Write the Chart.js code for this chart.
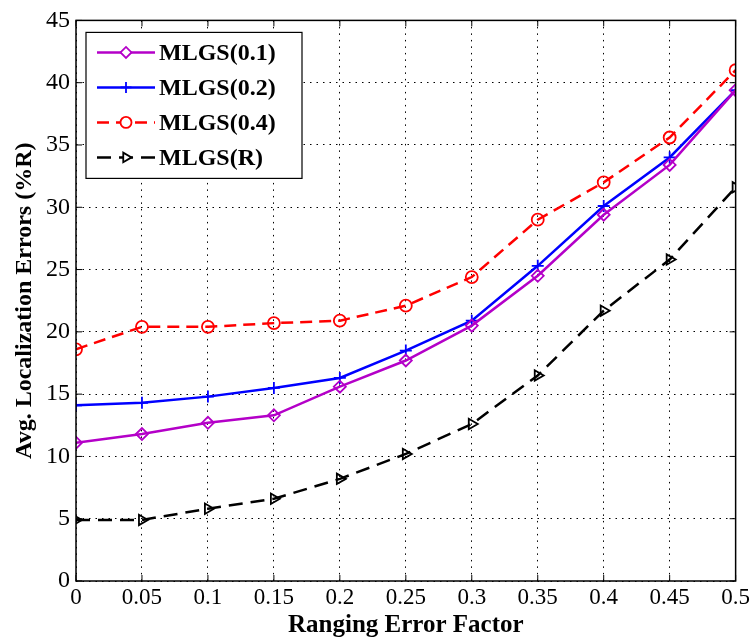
<!DOCTYPE html>
<html>
<head>
<meta charset="utf-8">
<script src="https://cdn.jsdelivr.net/npm/chart.js@4.4.0/dist/chart.umd.min.js"></script>
<style>
 body { margin:0; background:#fff; }
 #wrap { width:753px; height:641px; }
</style>
</head>
<body>
<div id="wrap"><canvas id="chart" width="753" height="641"></canvas></div>
<script>
var xVals = [0, 0.05, 0.1, 0.15, 0.2, 0.25, 0.3, 0.35, 0.4, 0.45, 0.5];
var mlgs01 = [11.1, 11.8, 12.7, 13.3, 15.6, 17.7, 20.5, 24.5, 29.4, 33.4, 39.4];
var mlgs02 = [14.1, 14.3, 14.8, 15.5, 16.3, 18.5, 20.9, 25.3, 30.1, 34.0, 39.4];
var mlgs04 = [18.6, 20.4, 20.4, 20.7, 20.9, 22.1, 24.4, 29.0, 32.0, 35.6, 41.0];
var mlgsR  = [4.9, 4.9, 5.8, 6.6, 8.2, 10.2, 12.6, 16.5, 21.7, 25.8, 31.6];
var seriesNames = ['MLGS(0.1)', 'MLGS(0.2)', 'MLGS(0.4)', 'MLGS(R)'];

function pts(arr) {
	var out = [];
	for (var i = 0; i < xVals.length; i++) out.push({x: xVals[i], y: arr[i]});
	return out;
}

var serif = '"Liberation Serif", "Times New Roman", serif';

// box, inward ticks and legend inside the plot
var framePlugin = {
	id: 'frame',
	afterDatasetsDraw: function(chart) {
		var ctx = chart.ctx, a = chart.chartArea;
		var xs = chart.scales.x, ys = chart.scales.y;
		ctx.save();
		ctx.strokeStyle = '#000';
		ctx.lineWidth = 1.5;
		ctx.setLineDash([]);
		ctx.strokeRect(a.left, a.top, a.right - a.left, a.bottom - a.top);
		ctx.lineWidth = 1;
		var tl = 6;
		xs.ticks.forEach(function(t) {
			var px = xs.getPixelForValue(t.value);
			ctx.beginPath();
			ctx.moveTo(px, a.bottom); ctx.lineTo(px, a.bottom - tl);
			ctx.moveTo(px, a.top); ctx.lineTo(px, a.top + tl);
			ctx.stroke();
		});
		ys.ticks.forEach(function(t) {
			var py = ys.getPixelForValue(t.value);
			ctx.beginPath();
			ctx.moveTo(a.left, py); ctx.lineTo(a.left + tl, py);
			ctx.moveTo(a.right, py); ctx.lineTo(a.right - tl, py);
			ctx.stroke();
		});

		// legend
		var lx = a.left + 10, ly = a.top + 12, lw = 216, lh = 146;
		ctx.fillStyle = '#fff';
		ctx.fillRect(lx, ly, lw, lh);
		ctx.lineWidth = 1.2;
		ctx.strokeRect(lx, ly, lw, lh);
		ctx.font = 'bold 24px ' + serif;
		ctx.textBaseline = 'middle';
		chart.data.datasets.forEach(function(ds, i) {
			var cy = ly + 20 + i * 35;
			ctx.strokeStyle = ds.borderColor;
			ctx.lineWidth = ds.borderWidth;
			ctx.setLineDash(ds.borderDash || []);
			ctx.beginPath();
			ctx.moveTo(lx + 11, cy); ctx.lineTo(lx + 69, cy);
			ctx.stroke();
			ctx.setLineDash([]);
			ctx.lineWidth = 1.8;
			ctx.fillStyle = '#fff';
			Chart.helpers.drawPoint(ctx, {
				pointStyle: ds.pointStyle, radius: 5.5, rotation: ds.pointRotation || 0,
				borderWidth: 1.8
			}, lx + 40, cy);
			ctx.fillStyle = '#000';
			ctx.fillText(ds.label, lx + 73, cy + 1);
		});
		ctx.restore();
	}
};

function ds(label, data, color, style, dash, rot) {
	return {
		label: label, data: pts(data), borderColor: color, backgroundColor: 'rgba(0,0,0,0)',
		borderWidth: 2.5, borderDash: dash, pointStyle: style, pointRadius: 6,
		pointBorderWidth: 1.8, pointBorderColor: color, pointBackgroundColor: 'rgba(0,0,0,0)',
		pointRotation: rot || 0, tension: 0, fill: false
	};
}

new Chart(document.getElementById('chart'), {
	type: 'line',
	data: {
		datasets: [
			ds(seriesNames[0], mlgs01, '#B400C8', 'rectRot', []),
			ds(seriesNames[1], mlgs02, '#0000FF', 'cross', []),
			ds(seriesNames[2], mlgs04, '#FF0000', 'circle', [12, 7]),
			ds(seriesNames[3], mlgsR, '#000000', 'triangle', [14, 8], 90)
		]
	},
	options: {
		responsive: false,
		animation: false,
		plugins: { legend: { display: false }, tooltip: { enabled: false } },
		layout: { padding: { top: 18, right: 10, left: 0, bottom: 0 } },
		scales: {
			x: {
				type: 'linear', min: 0, max: 0.5,
				afterFit: function(s) { s.height = 60; },
				afterBuildTicks: function(s) { s.ticks = xVals.map(function(v) { return {value: v}; }); },
				grid: { color: '#000', lineWidth: 1, drawTicks: false },
				border: { display: false, dash: [1.5, 5] },
				ticks: { color: '#000', padding: 3, maxRotation: 0, font: { family: serif, size: 23 },
					callback: function(v) { return String(Math.round(v * 100) / 100); } },
				title: { display: true, text: 'Ranging Error Factor', color: '#000', padding: { top: 4, bottom: 0 },
					font: { family: serif, size: 25, weight: 'bold' } }
			},
			y: {
				min: 0, max: 45,
				afterFit: function(s) { s.width = 76; },
				grid: { color: '#000', lineWidth: 1, drawTicks: false },
				border: { display: false, dash: [1.5, 5] },
				ticks: { stepSize: 5, color: '#000', padding: 6, font: { family: serif, size: 24 } },
				title: { display: true, text: 'Avg. Localization Errors (%R)', color: '#000', padding: { top: 10, bottom: 0 },
					font: { family: serif, size: 24, weight: 'bold' } }
			}
		}
	},
	plugins: [framePlugin]
});
</script>
</body>
</html>
